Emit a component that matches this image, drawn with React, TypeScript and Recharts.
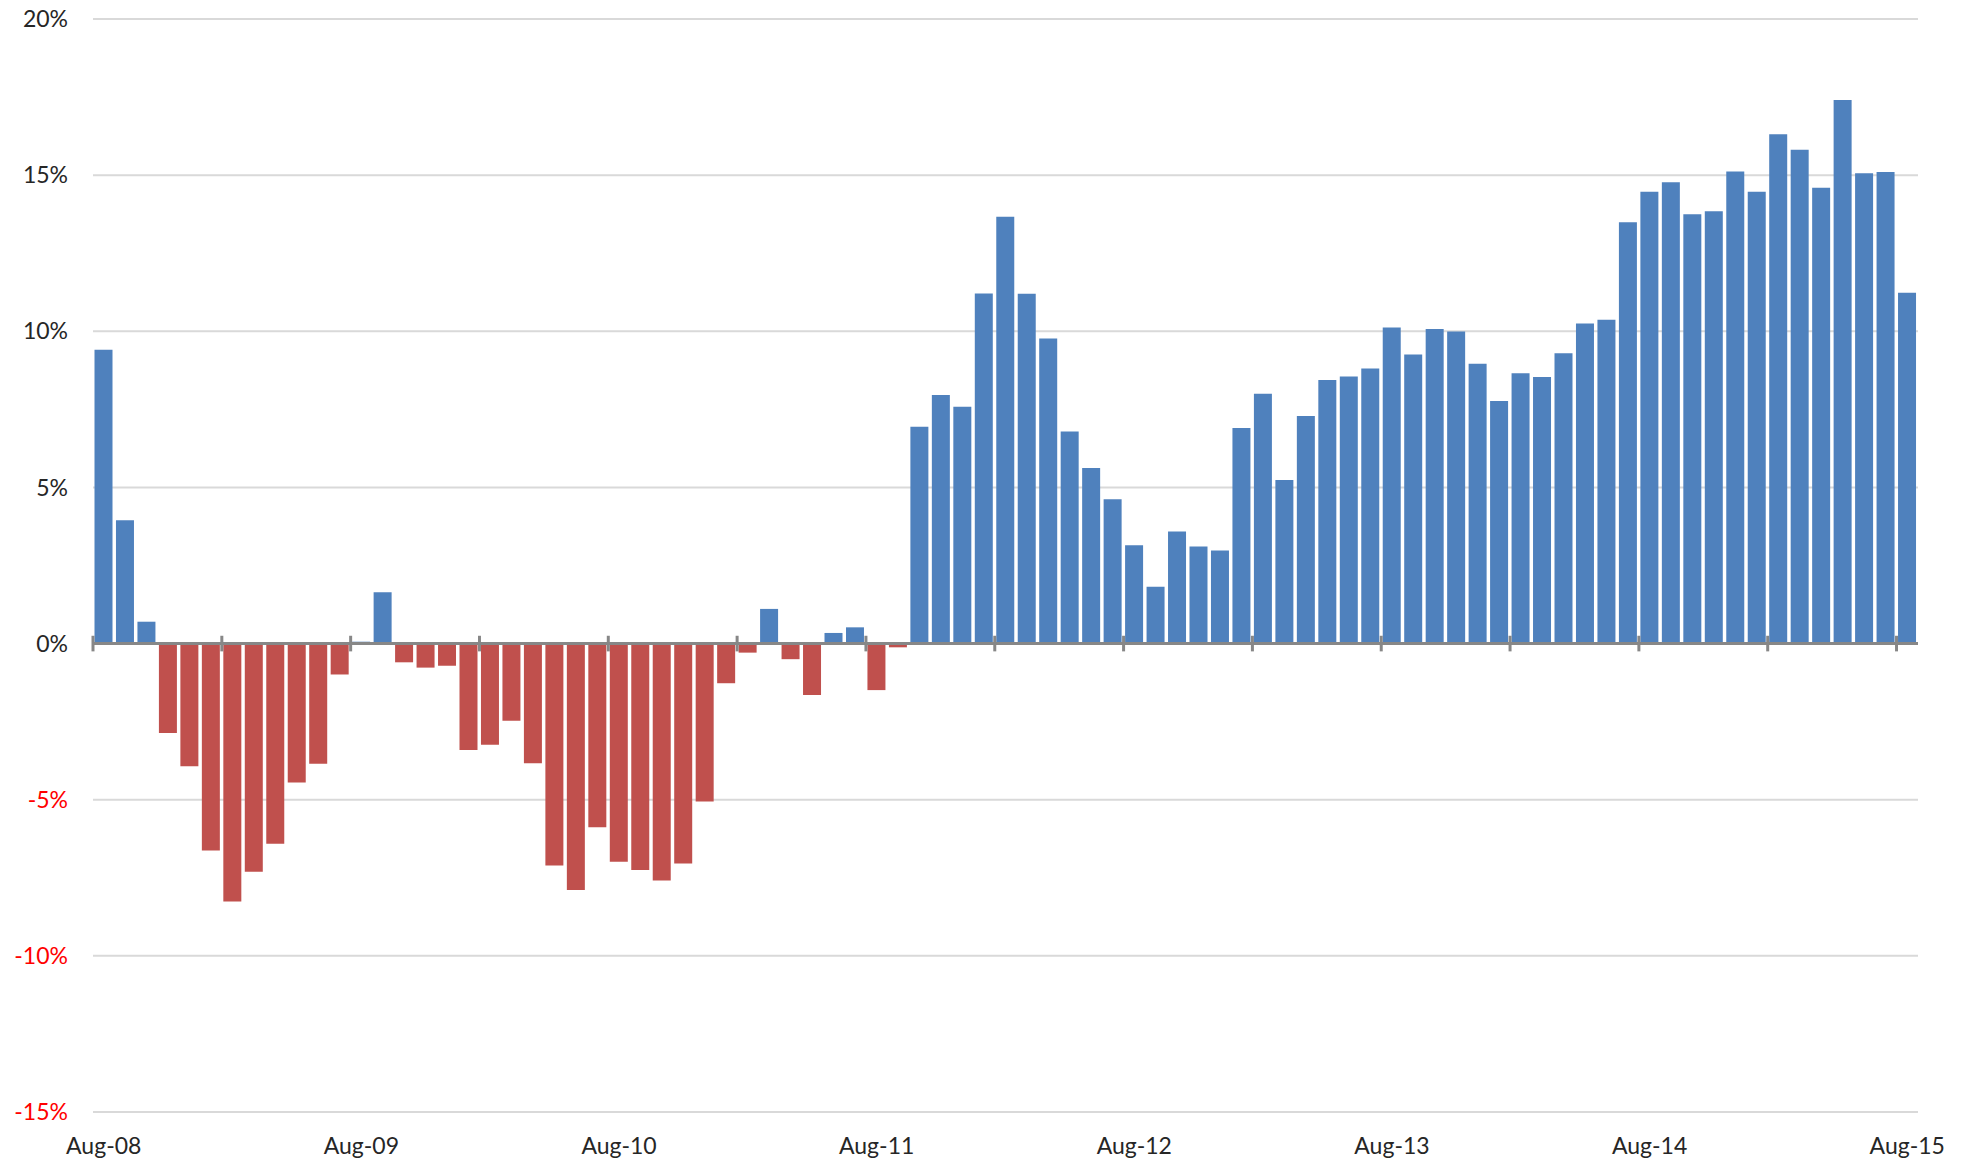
import React from "react";
import {
  BarChart,
  Bar,
  Cell,
  XAxis,
  YAxis,
  CartesianGrid,
  ReferenceLine,
} from "recharts";

// monthly categories, Aug-08 .. Aug-15
const months = [
  "Aug-08", "Sep-08", "Oct-08", "Nov-08", "Dec-08",
  "Jan-09", "Feb-09", "Mar-09", "Apr-09", "May-09", "Jun-09", "Jul-09", "Aug-09", "Sep-09", "Oct-09", "Nov-09", "Dec-09",
  "Jan-10", "Feb-10", "Mar-10", "Apr-10", "May-10", "Jun-10", "Jul-10", "Aug-10", "Sep-10", "Oct-10", "Nov-10", "Dec-10",
  "Jan-11", "Feb-11", "Mar-11", "Apr-11", "May-11", "Jun-11", "Jul-11", "Aug-11", "Sep-11", "Oct-11", "Nov-11", "Dec-11",
  "Jan-12", "Feb-12", "Mar-12", "Apr-12", "May-12", "Jun-12", "Jul-12", "Aug-12", "Sep-12", "Oct-12", "Nov-12", "Dec-12",
  "Jan-13", "Feb-13", "Mar-13", "Apr-13", "May-13", "Jun-13", "Jul-13", "Aug-13", "Sep-13", "Oct-13", "Nov-13", "Dec-13",
  "Jan-14", "Feb-14", "Mar-14", "Apr-14", "May-14", "Jun-14", "Jul-14", "Aug-14", "Sep-14", "Oct-14", "Nov-14", "Dec-14",
  "Jan-15", "Feb-15", "Mar-15", "Apr-15", "May-15", "Jun-15", "Jul-15", "Aug-15",
];

// year-on-year change, %
const changes = [
  9.41, 3.95, 0.7, -2.86, -3.93,
  -6.63, -8.26, -7.31, -6.41, -4.45, -3.85, -0.99, 0.06, 1.64, -0.6, -0.77, -0.71,
  -3.41, -3.24, -2.47, -3.83, -7.11, -7.89, -5.88, -6.99, -7.25, -7.59, -7.04, -5.06,
  -1.27, -0.29, 1.11, -0.5, -1.65, 0.34, 0.52, -1.49, -0.12, 6.94, 7.96, 7.58,
  11.21, 13.67, 11.2, 9.77, 6.79, 5.62, 4.62, 3.15, 1.82, 3.59, 3.11, 2.98,
  6.9, 8.0, 5.24, 7.29, 8.44, 8.55, 8.81, 10.12, 9.26, 10.07, 9.99, 8.96,
  7.77, 8.66, 8.54, 9.3, 10.25, 10.37, 13.49, 14.47, 14.77, 13.75, 13.84, 15.12,
  14.47, 16.31, 15.81, 14.6, 17.41, 15.06, 15.1, 11.23,
];

const yTicks = [-15, -10, -5, 0, 5, 10, 15, 20];
// tick marks on the zero line, every 6 months (band boundaries)
const axisTickMarks = [0, 6, 12, 18, 24, 30, 36, 42, 48, 54, 60, 66, 72, 78, 84];
const bandCount = 85;

const data = months.map((m, i) => ({ month: m, idx: i, value: changes[i] }));

const FONT = "Lato, 'Open Sans', sans-serif";

function YTick(props: any) {
  const { x, y, payload } = props;
  const v = payload.value as number;
  return (
    <text
      x={x}
      y={y}
      dy="0.355em"
      textAnchor="end"
      fill={v < 0 ? "#ff0000" : "#262626"}
      fontSize={23}
      fontFamily={FONT}
    >
      {v}%
    </text>
  );
}

export default function App() {
  return (
    <div style={{ position: "absolute", left: 0, top: 0, width: 1968, height: 1165, background: "#fff" }}>
      <BarChart
        width={1968}
        height={1165}
        data={data}
        margin={{ top: 19, right: 50, left: 0, bottom: 0 }}
        barCategoryGap={1.5}
      >
        <CartesianGrid vertical={false} stroke="#d9d9d9" strokeWidth={2} />
        <XAxis
          xAxisId="cat"
          dataKey="month"
          interval={11}
          axisLine={false}
          tickLine={false}
          tickSize={0}
          tickMargin={26}
          height={53}
          tick={{ fill: "#262626", fontSize: 23, fontFamily: FONT }}
        />
        <XAxis
          xAxisId="num"
          dataKey="idx"
          type="number"
          domain={[0, bandCount]}
          allowDataOverflow
          hide
        />
        <YAxis
          domain={[-15, 20]}
          ticks={yTicks}
          width={93}
          axisLine={false}
          tickLine={false}
          tickSize={0}
          tickMargin={25}
          tick={<YTick />}
        />
        <Bar xAxisId="cat" dataKey="value" isAnimationActive={false}>
          {data.map((d, i) => (
            <Cell key={i} fill={d.value < 0 ? "#c0504d" : "#4f81bd"} />
          ))}
        </Bar>
        <ReferenceLine xAxisId="cat" y={0} stroke="#878787" strokeWidth={3} />
        <ReferenceLine xAxisId="num" x={bandCount} ifOverflow="extendDomain" stroke="none" />
        {axisTickMarks.map((t) => (
          <ReferenceLine
            key={t}
            xAxisId="num"
            segment={[
              { x: t, y: -0.25 },
              { x: t, y: 0.25 },
            ]}
            stroke="#878787"
            strokeWidth={3}
          />
        ))}
      </BarChart>
    </div>
  );
}
